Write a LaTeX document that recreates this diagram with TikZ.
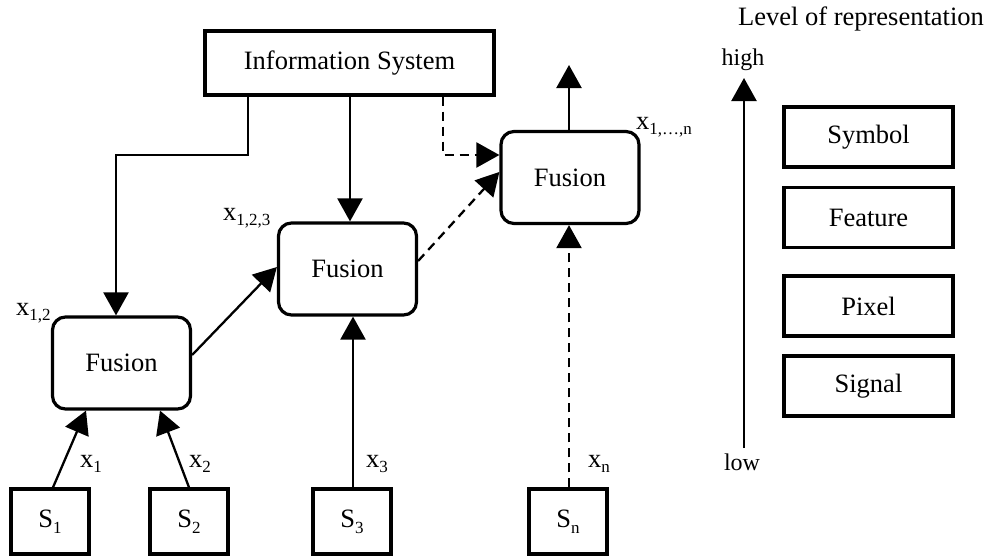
\documentclass[tikz,border=0pt]{standalone}
\usepackage{fontspec}
\setmainfont{Liberation Serif}
\usetikzlibrary{arrows.meta}

% subscript in text font, lowered a little
\newcommand\lowsub[1]{\raisebox{-0.22em}{\fontsize{17}{17}\selectfont #1}}

\begin{document}
\begin{tikzpicture}[x=1pt,y=-1pt,
  font=\fontsize{26.5}{30}\selectfont,
  plainbox/.style={draw,line width=3.2pt,rectangle,inner sep=0pt},
  fusebox/.style={plainbox,rounded corners=13pt,minimum width=138pt,minimum height=92pt},
  srcbox/.style={plainbox,minimum width=78pt,minimum height=65pt},
  lvlbox/.style={plainbox,minimum width=169pt,minimum height=60pt},
  conn/.style={line width=2.3pt,-{Triangle[length=23pt,width=25pt]}},
  dconn/.style={conn,dash pattern=on 9pt off 6pt},
  lbl/.style={inner sep=0pt,anchor=base west}]

\useasboundingbox (0,0) rectangle (989,557);

% main boxes
\node[plainbox,minimum width=289pt,minimum height=64pt] (info) at (349.5,63) {Information System};
\node[fusebox] (f1) at (121.5,363) {Fusion};
\node[fusebox] (f2) at (347.5,269) {Fusion};
\node[fusebox] (f3) at (570,177.5) {Fusion};

% sensors
\node[srcbox] (s1) at (50,521.5) {S\lowsub{1}};
\node[srcbox] (s2) at (189,521.5) {S\lowsub{2}};
\node[srcbox] (s3) at (352,521.5) {S\lowsub{3}};
\node[srcbox] (sn) at (568,521.5) {S\lowsub{n}};

% bends and free ends
\coordinate (bendA) at (248,155);
\coordinate (bendB) at (116,155);
\coordinate (colB) at (350,0);
\coordinate (bendC) at (443,155);
\coordinate (out) at (569,65);

% connectors
\draw[conn] (info.south -| bendA) -- (bendA) -- (bendB) -- (bendB |- f1.north);
\draw[conn] (info.south -| colB) -- (colB |- f2.north);
\draw[dconn] (info.south -| bendC) -- (bendC) -- (bendC -| f3.west);
\draw[conn] ([yshift=8pt]f1.east) -- ([yshift=2pt]f2.west);
\draw[dconn] ([yshift=8pt]f2.east) -- ([yshift=5.5pt]f3.west);
\draw[conn] (out |- f3.north) -- (out);
\draw[dconn] ([xshift=1pt]sn.north) -- ([xshift=1pt]sn.north |- f3.south);
\draw[conn] ([xshift=1pt]s3.north) -- ([xshift=1pt]s3.north |- f2.south);
\draw[conn] ([xshift=3pt]s1.north) -- ([xshift=-35.5pt]f1.south);
\draw[conn] (s2.north) -- ([xshift=38.5pt]f1.south);

% signal labels
\node[lbl] (lx1) at (80,467) {x\lowsub{1}};
\node[lbl] (lx2) at (189,467) {x\lowsub{2}};
\node[lbl] (lx3) at (366,467) {x\lowsub{3}};
\node[lbl] (lxn) at (588,467) {x\lowsub{n}};
\node[lbl] (lx12) at (16,315) {x\lowsub{1,2}};
\node[lbl] (lx123) at (223,220) {x\lowsub{1,2,3}};
\node[lbl] (lx1n) at (636,129) {x\lowsub{1,…,n}};

% level of representation
\node[inner sep=0pt,anchor=base] (lvltitle) at (861,25) {Level of representation};
\node[inner sep=0pt,anchor=base,font=\fontsize{24}{28}\selectfont] (high) at (743,65) {high};
\node[inner sep=0pt,anchor=base,font=\fontsize{24}{28}\selectfont] (low) at (742,470) {low};
\coordinate (lvlbot) at (744,448);
\coordinate (lvltop) at (744,78);
\draw[conn] (lvlbot) -- (lvltop);

\node[lvlbox] (symbol) at (868.5,137) {Symbol};
\node[lvlbox] (feature) at (868.5,217.5) {Feature};
\node[lvlbox] (pixel) at (868.5,306) {Pixel};
\node[lvlbox] (signal) at (868.5,386) {Signal};
\end{tikzpicture}
\end{document}
